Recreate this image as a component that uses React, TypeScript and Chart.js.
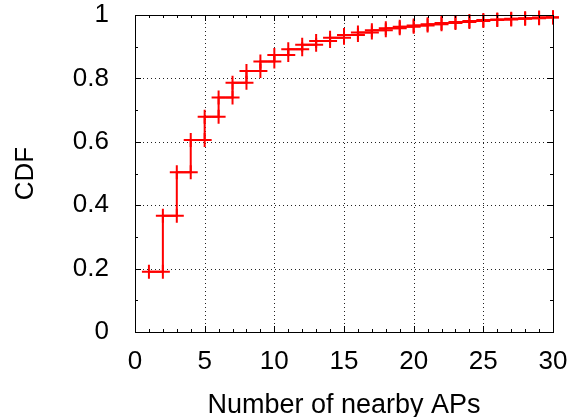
import React, { useEffect, useRef } from "react";
import { Chart, registerables } from "chart.js";

Chart.register(...registerables);

const nearbyAPs = [1, 2, 3, 4, 5, 6, 7, 8, 9, 10, 11, 12, 13, 14, 15, 16, 17, 18, 19, 20, 21, 22, 23, 24, 25, 26, 27, 28, 29, 30];
const cdfValues = [0.19, 0.367, 0.504, 0.606, 0.679, 0.74, 0.786, 0.823, 0.853, 0.874, 0.892, 0.906, 0.918, 0.928, 0.937, 0.945, 0.952, 0.958, 0.963, 0.967, 0.971, 0.975, 0.978, 0.981, 0.984, 0.986, 0.988, 0.99, 0.992, 0.993];
const xTickValues = [0, 5, 10, 15, 20, 25, 30];
const yTickValues = [0, 0.2, 0.4, 0.6, 0.8, 1];
const xMinorValues = Array.from({ length: 31 }, (_, i) => i);
const yMinorValues = [0, 0.1, 0.2, 0.3, 0.4, 0.5, 0.6, 0.7, 0.8, 0.9, 1];

const FONT = "'Liberation Sans', Arial, Helvetica, sans-serif";

const gridPlugin = {
  id: "dottedGrid",
  beforeDatasetsDraw(chart: any) {
    const { ctx, chartArea } = chart;
    const xs = chart.scales.x;
    const ys = chart.scales.y;
    ctx.save();
    ctx.strokeStyle = "#222";
    ctx.lineWidth = 1;
    ctx.setLineDash([1, 3]);
    ctx.beginPath();
    xTickValues.slice(1, -1).forEach((v) => {
      const px = Math.round(xs.getPixelForValue(v)) + 0.5;
      ctx.moveTo(px, chartArea.bottom);
      ctx.lineTo(px, chartArea.top);
    });
    yTickValues.slice(1, -1).forEach((v) => {
      const py = Math.round(ys.getPixelForValue(v)) + 0.5;
      ctx.moveTo(chartArea.left, py);
      ctx.lineTo(chartArea.right, py);
    });
    ctx.stroke();
    ctx.restore();
  },
};

const framePlugin = {
  id: "frame",
  afterDatasetsDraw(chart: any) {
    const { ctx, chartArea } = chart;
    const xs = chart.scales.x;
    const ys = chart.scales.y;
    ctx.save();
    ctx.strokeStyle = "#000";
    ctx.lineWidth = 1;
    ctx.setLineDash([]);
    ctx.beginPath();
    xMinorValues.forEach((v) => {
      const len = v % 5 === 0 ? 6 : 3;
      const px = Math.round(xs.getPixelForValue(v)) + 0.5;
      ctx.moveTo(px, chartArea.bottom);
      ctx.lineTo(px, chartArea.bottom - len);
      ctx.moveTo(px, chartArea.top);
      ctx.lineTo(px, chartArea.top + len);
    });
    yMinorValues.forEach((v, i) => {
      const len = i % 2 === 0 ? 6 : 3;
      const py = Math.round(ys.getPixelForValue(v)) + 0.5;
      ctx.moveTo(chartArea.left, py);
      ctx.lineTo(chartArea.left + len, py);
      ctx.moveTo(chartArea.right, py);
      ctx.lineTo(chartArea.right - len, py);
    });
    ctx.stroke();
    ctx.strokeRect(
      Math.round(chartArea.left) + 0.5,
      Math.round(chartArea.top) + 0.5,
      Math.round(chartArea.right - chartArea.left),
      Math.round(chartArea.bottom - chartArea.top)
    );
    ctx.restore();
  },
};

const zeroPadding = (scale: any) => {
  scale.paddingTop = 0;
  scale.paddingBottom = 0;
  scale.paddingLeft = 0;
  scale.paddingRight = 0;
};

export default function App() {
  const ref = useRef<HTMLCanvasElement | null>(null);
  useEffect(() => {
    document.body.style.margin = "0";
    const points: { x: number; y: number }[] = [];
    nearbyAPs.forEach((x, i) => {
      points.push({ x, y: cdfValues[i] });
      points.push({ x: x + 1, y: cdfValues[i] });
    });
    const chart = new Chart(ref.current as HTMLCanvasElement, {
      type: "line",
      data: {
        datasets: [
          {
            data: points,
            borderColor: "#ff0000",
            backgroundColor: "#ff0000",
            borderWidth: 2,
            pointStyle: "cross",
            pointRadius: 7,
            pointBorderWidth: 2,
            pointBorderColor: "#ff0000",
            fill: false,
            tension: 0,
            clip: { left: 8, right: 6, top: 8, bottom: 8 },
          } as any,
        ],
      },
      options: {
        responsive: false,
        animation: false,
        events: [],
        layout: { padding: { top: 15, right: 20, left: 0, bottom: 0 } },
        plugins: { legend: { display: false }, tooltip: { enabled: false } },
        scales: {
          x: {
            type: "linear",
            min: 0,
            max: 30,
            afterBuildTicks: (scale: any) => {
              scale.ticks = xTickValues.map((v) => ({ value: v }));
            },
            afterFit: (scale: any) => {
              scale.height = 85;
              zeroPadding(scale);
            },
            border: { display: false },
            grid: { display: false },
            ticks: {
              color: "#000",
              padding: 6,
              font: { family: FONT, size: 26 },
              maxRotation: 0,
              autoSkip: false,
            },
            title: {
              display: true,
              text: "Number of nearby APs",
              color: "#000",
              font: { family: FONT, size: 27, lineHeight: 1 },
              padding: { top: 0, bottom: -2 },
            },
          },
          y: {
            type: "linear",
            min: 0,
            max: 1,
            afterBuildTicks: (scale: any) => {
              scale.ticks = yTickValues.map((v) => ({ value: v }));
            },
            afterFit: (scale: any) => {
              scale.width = 135;
              zeroPadding(scale);
            },
            border: { display: false },
            grid: { display: false },
            ticks: {
              color: "#000",
              padding: 18,
              font: { family: FONT, size: 26 },
              callback: (v: any) => String(v),
            },
            title: {
              display: true,
              text: "CDF",
              color: "#000",
              font: { family: FONT, size: 26 },
              padding: { top: 10, bottom: 0 },
            },
          },
        },
      },
      plugins: [gridPlugin, framePlugin],
    });
    return () => chart.destroy();
  }, []);
  return (
    <div style={{ width: 573, height: 417 }}>
      <canvas ref={ref} width={573} height={417} />
    </div>
  );
}
